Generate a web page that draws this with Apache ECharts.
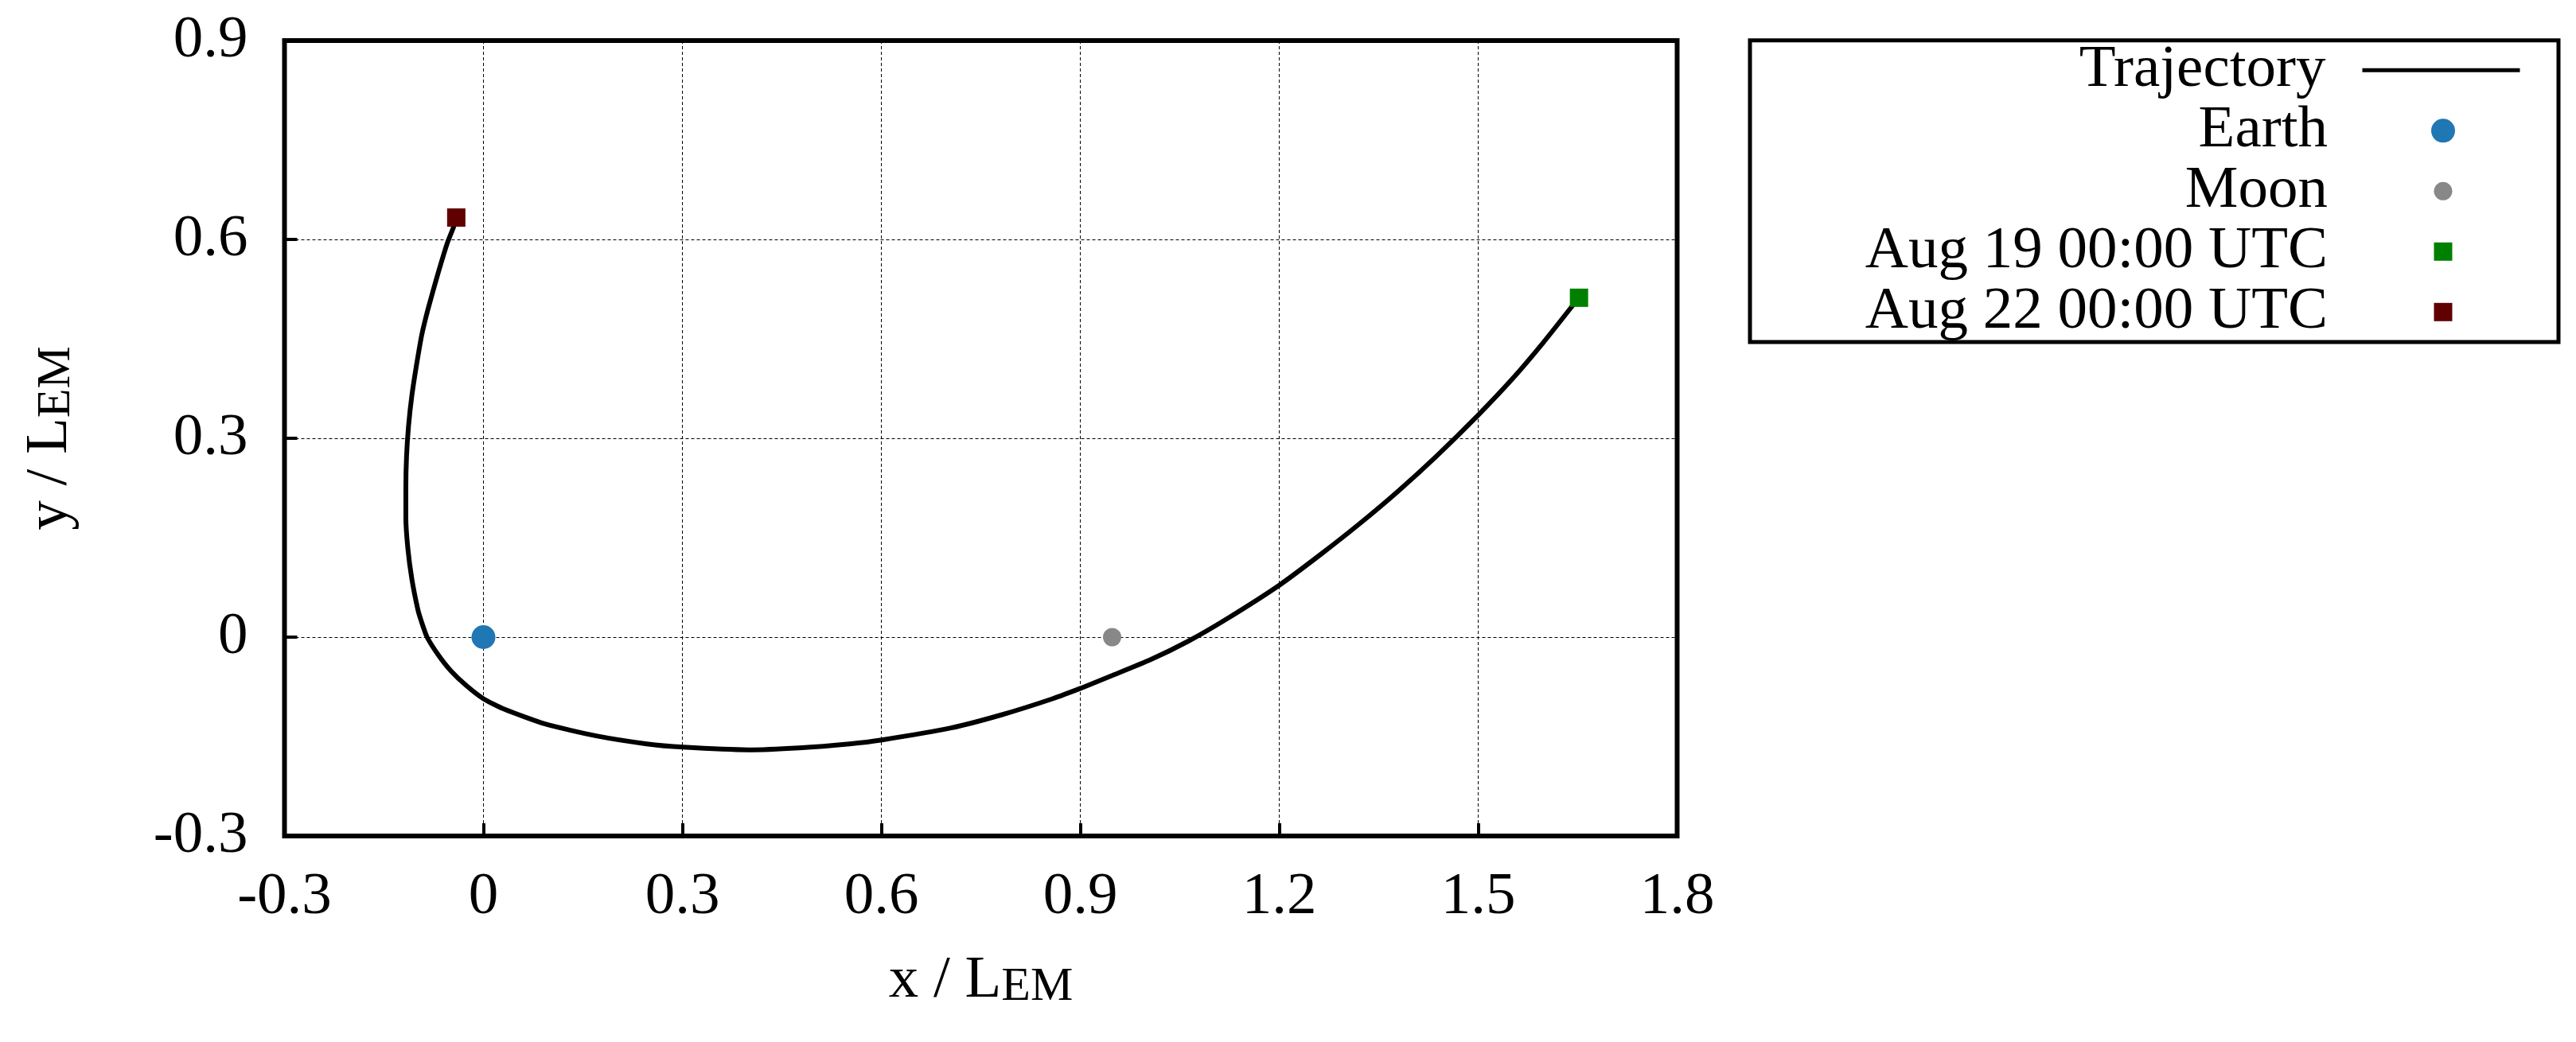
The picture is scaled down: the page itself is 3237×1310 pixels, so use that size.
<!DOCTYPE html>
<html>
<head>
<meta charset="utf-8">
<title>Trajectory</title>
<script src="https://cdn.jsdelivr.net/npm/echarts@6/dist/echarts.min.js"></script>
<style>
  html, body { margin: 0; padding: 0; background: #fff; }
  #chart { width: 3237px; height: 1310px; }
</style>
</head>
<body>
<div id="chart"></div>
<script>
// axis ranges and tick step (x / L_EM, y / L_EM)
var xRange = [-0.3, 1.8];
var yRange = [-0.3, 0.9];
var tickStep = 0.3;

// trajectory, from Aug 19 (green) to Aug 22 (dark red)
var trajX = [1.652, 1.643, 1.597, 1.551, 1.500, 1.436, 1.379, 1.321, 1.264,
             1.201, 1.120, 1.063, 1.006, 0.948, 0.901, 0.858, 0.782, 0.705, 0.601,
             0.552, 0.476, 0.399, 0.301, 0.246, 0.170, 0.093, 0.032, 0.000, -0.026,
             -0.049, -0.068, -0.085, -0.094, -0.099, -0.108, -0.114, -0.117, -0.117, -0.116,
             -0.113, -0.108, -0.101, -0.093, -0.083, -0.069, -0.055, -0.045, -0.041];
var trajY = [0.513, 0.501, 0.443, 0.389, 0.335, 0.272, 0.220, 0.171, 0.126,
             0.079, 0.027, -0.006, -0.034, -0.058, -0.077, -0.093, -0.117, -0.137, -0.155,
             -0.161, -0.167, -0.170, -0.166, -0.161, -0.149, -0.131, -0.109, -0.093, -0.073,
             -0.051, -0.027, 0.000, 0.025, 0.042, 0.088, 0.134, 0.180, 0.226, 0.272,
             0.318, 0.364, 0.410, 0.456, 0.497, 0.547, 0.593, 0.619, 0.633];

// single points
var earthPos = [0, 0];
var moonPos = [0.948, 0];
var startPos = [1.652, 0.512];   // Aug 19 00:00 UTC
var endPos = [-0.041, 0.633];    // Aug 22 00:00 UTC

var names = ['Trajectory', 'Earth', 'Moon', 'Aug 19 00:00 UTC', 'Aug 22 00:00 UTC'];
var colors = ['#000000', '#1f77b4', '#888888', '#008000', '#600000'];
var markSizes = [0, 30, 23, 23, 23];

var FONT = 'Liberation Serif';

var trajData = [];
for (var i = 0; i < trajX.length; i++) {
    trajData.push([trajX[i], trajY[i]]);
}

var myChart = echarts.init(document.getElementById('chart'), null, { renderer: 'canvas' });

function axisCommon(range) {
    return {
        type: 'value',
        min: range[0],
        max: range[1],
        interval: tickStep,
        nameLocation: 'middle',
        axisLine: { show: false, onZero: false },
        axisTick: { show: true, inside: true, length: 16, lineStyle: { color: '#000', width: 4 } },
        splitLine: { show: true, lineStyle: { color: '#000', width: 1, type: [4, 3] } },
        axisLabel: { color: '#000', fontFamily: FONT, fontSize: 75 }
    };
}

var titleRich = {
    m: { fontFamily: FONT, fontSize: 75, lineHeight: 76, color: '#000' },
    s: { fontFamily: FONT, fontSize: 60, lineHeight: 20, verticalAlign: 'bottom', color: '#000' }
};

var xAxis = axisCommon(xRange);
xAxis.axisLabel.margin = 40;
xAxis.name = '{m|x / L}{s|EM}';
xAxis.nameGap = 144;
xAxis.nameTextStyle = { rich: titleRich };

var yAxis = axisCommon(yRange);
yAxis.axisLabel.margin = 46;
yAxis.name = '{m|y / L}{s|EM}';
yAxis.nameGap = 256;
yAxis.nameTextStyle = { rich: titleRich };

// one legend per entry so every icon keeps its own size
// icons are centred at x = 3070, text ends at x = 2925
var legends = names.map(function (n, idx) {
    var w = idx === 0 ? 198 : markSizes[idx];
    var h = idx === 0 ? 14 : markSizes[idx];
    var iconRight = 3070 + w / 2;
    var iconLeft = 3070 - w / 2;
    var lg = {
        data: [n],
        orient: 'vertical',
        align: 'right',
        right: 3237 - iconRight,
        top: 50.3 + idx * 76,
        padding: 0,
        itemGap: 0,
        itemWidth: w,
        itemHeight: h,
        selectedMode: false,
        textStyle: {
            color: '#000', fontFamily: FONT, fontSize: 75, lineHeight: 76,
            padding: [0, iconLeft - 2925 - 5, 0, 0]
        }
    };
    if (idx === 0) {
        lg.lineStyle = { color: '#000', width: 5 };
        lg.itemStyle = { opacity: 0 };
    }
    return lg;
});

var option = {
    animation: false,
    backgroundColor: '#fff',
    grid: {
        left: 357.5,
        top: 51,
        width: 1750,
        height: 1000,
        show: true,
        borderColor: '#000',
        borderWidth: 6,
        backgroundColor: 'transparent'
    },
    xAxis: xAxis,
    yAxis: yAxis,
    legend: legends,
    graphic: [{
        type: 'rect',
        shape: { x: 2199, y: 50.7, width: 1016, height: 379.3 },
        style: { fill: 'none', stroke: '#000', lineWidth: 5 },
        z: 10
    }],
    series: [
        {
            name: names[0],
            type: 'line',
            data: trajData,
            symbol: 'none',
            smooth: 0.2,
            lineStyle: { color: colors[0], width: 6 },
            itemStyle: { color: colors[0] },
            z: 2
        },
        {
            name: names[1],
            type: 'scatter',
            data: [earthPos],
            symbol: 'circle',
            symbolSize: markSizes[1],
            itemStyle: { color: colors[1], opacity: 1 },
            z: 3
        },
        {
            name: names[2],
            type: 'scatter',
            data: [moonPos],
            symbol: 'circle',
            symbolSize: markSizes[2],
            itemStyle: { color: colors[2], opacity: 1 },
            z: 3
        },
        {
            name: names[3],
            type: 'scatter',
            data: [startPos],
            symbol: 'rect',
            symbolSize: markSizes[3],
            itemStyle: { color: colors[3], opacity: 1 },
            z: 4
        },
        {
            name: names[4],
            type: 'scatter',
            data: [endPos],
            symbol: 'rect',
            symbolSize: markSizes[4],
            itemStyle: { color: colors[4], opacity: 1 },
            z: 4
        }
    ]
};

myChart.setOption(option);
</script>
</body>
</html>
